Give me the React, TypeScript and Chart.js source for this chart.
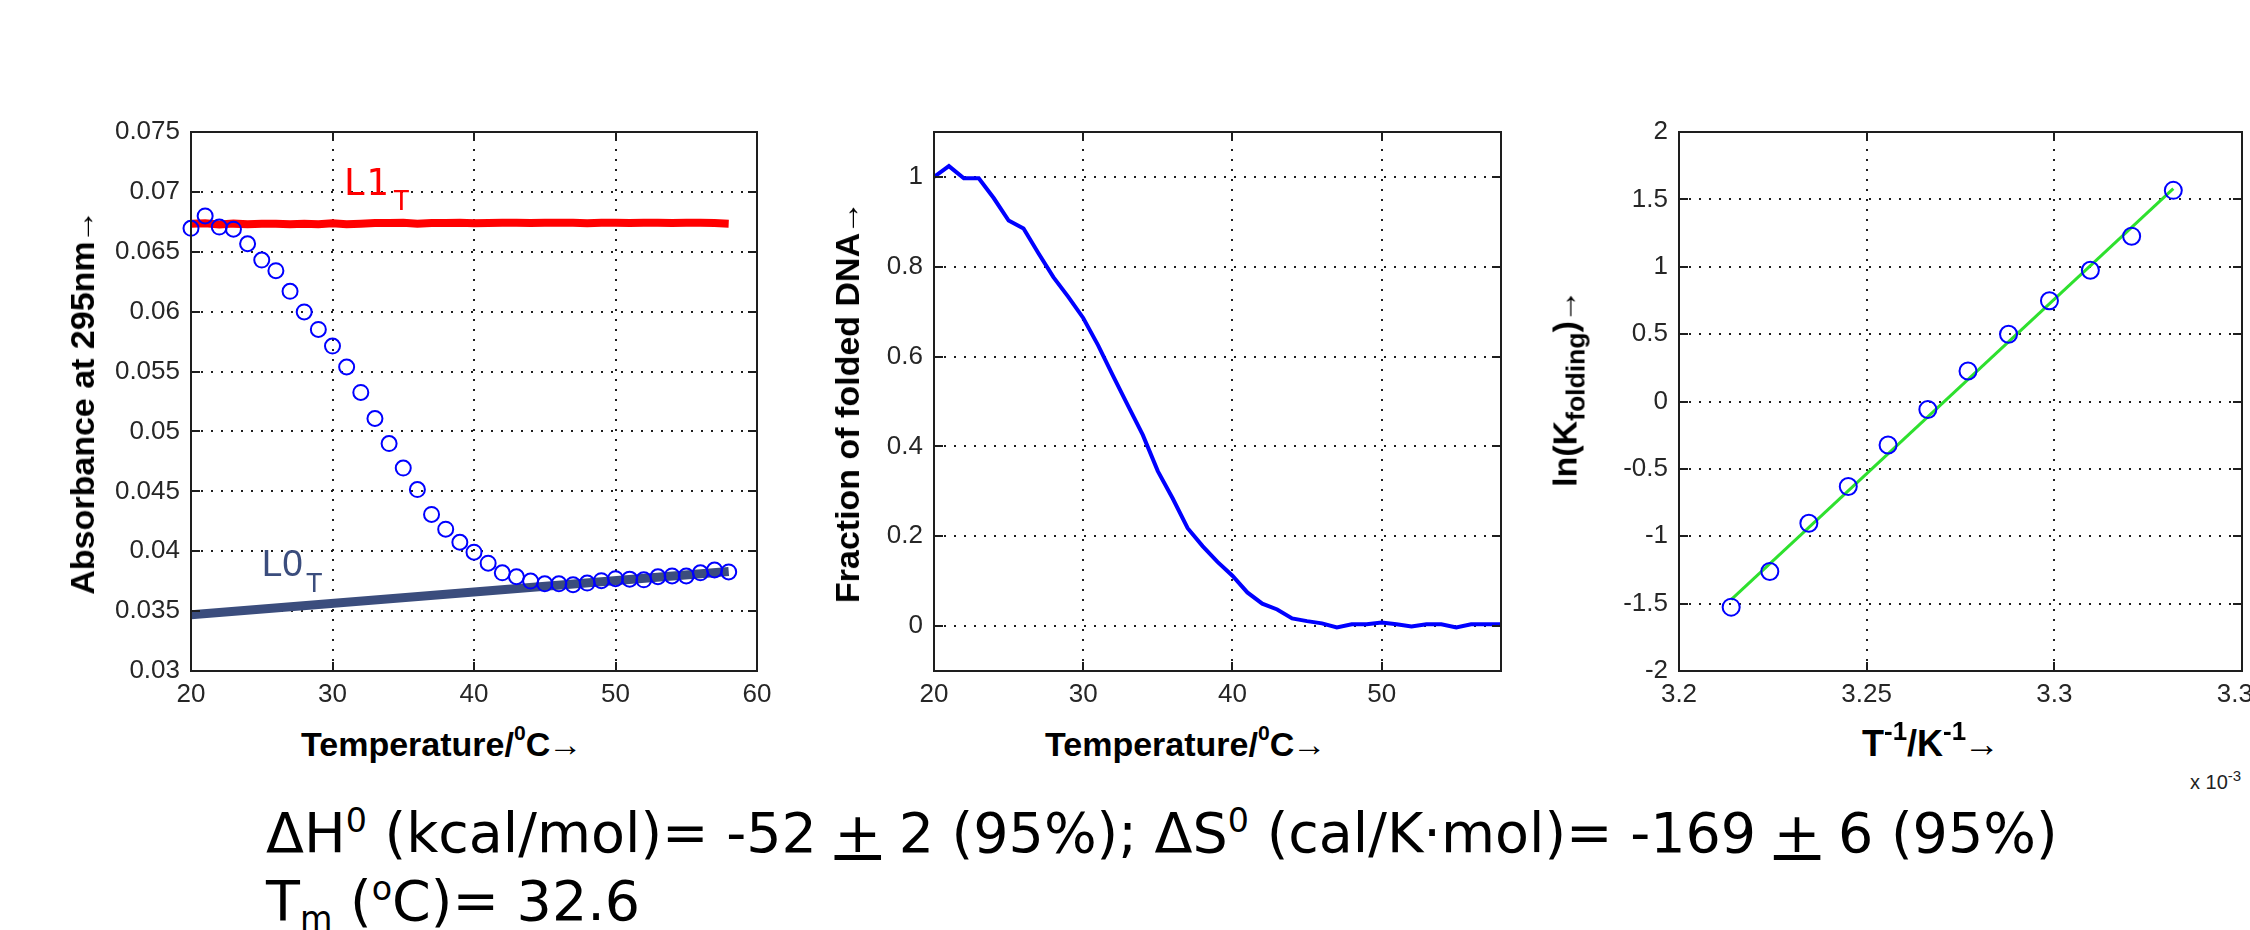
import React, { useEffect, useRef } from "react";
import { Chart, registerables } from "chart.js";

Chart.register(...registerables);

// ---------------- data ----------------
const temperatureC = [
  20, 21, 22, 23, 24, 25, 26, 27, 28, 29, 30, 31, 32, 33, 34, 35, 36, 37, 38, 39,
  40, 41, 42, 43, 44, 45, 46, 47, 48, 49, 50, 51, 52, 53, 54, 55, 56, 57, 58,
];
const absorbance295 = [
  0.06696, 0.06799, 0.06706, 0.06689, 0.06567, 0.06431, 0.06342, 0.0617, 0.05998, 0.05852,
  0.05713, 0.05538, 0.05326, 0.05108, 0.04899, 0.04694, 0.04515, 0.04307, 0.04184, 0.04075,
  0.03992, 0.039, 0.0382, 0.03787, 0.03751, 0.03728, 0.03728, 0.03721, 0.03734, 0.03754,
  0.03771, 0.03767, 0.03761, 0.03787, 0.03794, 0.03794, 0.0382, 0.03843, 0.03827,
];
const l1Absorbance = [
  0.06735, 0.06738, 0.06728, 0.06735, 0.0673, 0.06735, 0.06735, 0.0673, 0.06735, 0.0673,
  0.06738, 0.0673, 0.06735, 0.0674, 0.0674, 0.06742, 0.06735, 0.0674, 0.0674, 0.06742,
  0.06738, 0.0674, 0.06742, 0.06742, 0.0674, 0.06742, 0.06742, 0.06742, 0.06738, 0.06742,
  0.06742, 0.0674, 0.06742, 0.06742, 0.0674, 0.06742, 0.06742, 0.0674, 0.06735,
];
const l0Temperature = [20, 58];
const l0Absorbance = [0.0347, 0.0383];

const foldedFraction = [
  1.0, 1.024, 0.997, 0.997, 0.953, 0.903, 0.885, 0.83, 0.777, 0.733,
  0.686, 0.625, 0.557, 0.491, 0.425, 0.345, 0.284, 0.218, 0.178, 0.143,
  0.112, 0.075, 0.05, 0.037, 0.017, 0.011, 0.006, -0.003, 0.004, 0.004,
  0.008, 0.004, -0.001, 0.004, 0.004, -0.003, 0.004, 0.004, 0.004,
];

const inverseT = [
  3.2139, 3.2242, 3.2346, 3.2451, 3.2557, 3.2663, 3.277, 3.2878, 3.2987, 3.3096, 3.3206, 3.3317,
];
const lnKfolding = [
  -1.526, -1.262, -0.904, -0.631, -0.323, -0.059, 0.226, 0.499, 0.748, 0.974, 1.227, 1.567,
];
const fitInverseT = [3.2139, 3.3317];
const fitLnK = [-1.47, 1.58];

// tick values
const xTicksAbs = [20, 30, 40, 50, 60];
const yTicksAbs = [0.03, 0.035, 0.04, 0.045, 0.05, 0.055, 0.06, 0.065, 0.07, 0.075];
const xTicksFrac = [20, 30, 40, 50];
const yTicksFrac = [0, 0.2, 0.4, 0.6, 0.8, 1];
const xTicksInvT = [3.2, 3.25, 3.3, 3.35];
const yTicksLnK = [-2, -1.5, -1, -0.5, 0, 0.5, 1, 1.5, 2];

// ---------------- styling ----------------
const PLOT_FONT = "'Liberation Sans', Arial, Helvetica, sans-serif";
const TEXT_FONT = "'DejaVu Sans', Verdana, sans-serif";
const AXIS_COLOR = "#1e1e1e";

const fmt = (v: number) => String(Number(Number(v).toFixed(4)));

const framePlugin = {
  id: "matlabFrame",
  beforeDatasetsDraw(chart: any) {
    const { ctx, chartArea: a } = chart;
    const xs = chart.scales.x;
    const ys = chart.scales.y;
    ctx.save();
    ctx.strokeStyle = AXIS_COLOR;
    ctx.lineWidth = 2;
    ctx.setLineDash([2, 8]);
    xs.ticks.forEach((t: any) => {
      const px = Math.round(xs.getPixelForValue(t.value));
      if (px <= a.left + 2 || px >= a.right - 2) return;
      ctx.beginPath();
      ctx.moveTo(px, a.bottom);
      ctx.lineTo(px, a.top);
      ctx.stroke();
    });
    ys.ticks.forEach((t: any) => {
      const py = Math.round(ys.getPixelForValue(t.value));
      if (py <= a.top + 2 || py >= a.bottom - 2) return;
      ctx.beginPath();
      ctx.moveTo(a.left, py);
      ctx.lineTo(a.right, py);
      ctx.stroke();
    });
    ctx.restore();
  },
  afterDatasetsDraw(chart: any, _args: any, opts: any) {
    const { ctx, chartArea: a } = chart;
    const xs = chart.scales.x;
    const ys = chart.scales.y;
    ctx.save();
    ctx.strokeStyle = AXIS_COLOR;
    ctx.lineWidth = 2;
    ctx.setLineDash([]);
    const tl = 9;
    ctx.beginPath();
    xs.ticks.forEach((t: any) => {
      const px = Math.round(xs.getPixelForValue(t.value));
      ctx.moveTo(px, a.bottom);
      ctx.lineTo(px, a.bottom - tl);
      ctx.moveTo(px, a.top);
      ctx.lineTo(px, a.top + tl);
    });
    ys.ticks.forEach((t: any) => {
      const py = Math.round(ys.getPixelForValue(t.value));
      ctx.moveTo(a.left, py);
      ctx.lineTo(a.left + tl, py);
      ctx.moveTo(a.right, py);
      ctx.lineTo(a.right - tl, py);
    });
    ctx.stroke();
    ctx.strokeRect(a.left, a.top, a.right - a.left, a.bottom - a.top);

    (opts.labels || []).forEach((lb: any) => {
      const px = xs.getPixelForValue(lb.x);
      const py = ys.getPixelForValue(lb.y);
      ctx.fillStyle = lb.color;
      ctx.textAlign = "left";
      ctx.textBaseline = "alphabetic";
      ctx.font = lb.font;
      ctx.fillText(lb.text, px, py);
      const w = ctx.measureText(lb.text).width;
      ctx.font = lb.subFont;
      ctx.fillText(lb.sub, px + w + lb.subGap, py + lb.subDrop);
    });
    ctx.restore();
  },
};

type PanelSpec = {
  datasets: any[];
  xMin: number;
  xMax: number;
  xTicks: number[];
  yMin: number;
  yMax: number;
  yTicks: number[];
  padRight: number;
  labels?: any[];
};

const Y_AXIS_W = 120;
const X_AXIS_H = 50;
const PAD_TOP = 32;

function buildConfig(p: PanelSpec): any {
  const tickFont = { family: PLOT_FONT, size: 26 };
  return {
    type: "scatter",
    data: { datasets: p.datasets },
    options: {
      animation: false,
      responsive: false,
      maintainAspectRatio: false,
      layout: { padding: { left: 0, top: PAD_TOP, right: p.padRight, bottom: 0 } },
      plugins: {
        legend: { display: false },
        tooltip: { enabled: false },
        matlabFrame: { labels: p.labels || [] },
      },
      scales: {
        x: {
          type: "linear",
          min: p.xMin,
          max: p.xMax,
          grid: { display: false, drawTicks: false },
          border: { display: false },
          afterBuildTicks: (s: any) => {
            s.ticks = p.xTicks.map((v) => ({ value: v }));
          },
          afterFit: (s: any) => {
            s.height = X_AXIS_H;
            s.paddingLeft = 0;
            s.paddingRight = 0;
          },
          ticks: {
            font: tickFont,
            color: "#262626",
            padding: 8,
            maxRotation: 0,
            autoSkip: false,
            callback: (v: any) => fmt(v),
          },
        },
        y: {
          type: "linear",
          min: p.yMin,
          max: p.yMax,
          grid: { display: false, drawTicks: false },
          border: { display: false },
          afterBuildTicks: (s: any) => {
            s.ticks = p.yTicks.map((v) => ({ value: v }));
          },
          afterFit: (s: any) => {
            s.width = Y_AXIS_W;
            s.paddingTop = 0;
            s.paddingBottom = 0;
          },
          ticks: {
            font: tickFont,
            color: "#262626",
            padding: 11,
            autoSkip: false,
            callback: (v: any) => fmt(v),
          },
        },
      },
    },
    plugins: [framePlugin],
  };
}

const circleStyle = (radius: number) => ({
  showLine: false,
  pointStyle: "circle",
  pointRadius: radius,
  pointBorderColor: "#0000ff",
  pointBackgroundColor: "rgba(0,0,0,0)",
  pointBorderWidth: 2,
  clip: false,
});

const lineStyle = (color: string, width: number) => ({
  showLine: true,
  pointRadius: 0,
  borderColor: color,
  borderWidth: width,
  tension: 0,
  fill: false,
});

function zip(xs: number[], ys: number[]) {
  return xs.map((x, i) => ({ x, y: ys[i] }));
}

const PLOT_TOP = 132;
const PLOT_BOTTOM = 671;
const PLOT_H = PLOT_BOTTOM - PLOT_TOP;

function ChartPanel({ plotLeft, plotRight, spec }: { plotLeft: number; plotRight: number; spec: PanelSpec }) {
  const ref = useRef<HTMLCanvasElement>(null);
  const width = Y_AXIS_W + (plotRight - plotLeft) + spec.padRight;
  const height = PAD_TOP + PLOT_H + X_AXIS_H;
  useEffect(() => {
    const chart = new Chart(ref.current as HTMLCanvasElement, buildConfig(spec));
    return () => chart.destroy();
  }, []);
  return (
    <canvas
      ref={ref}
      width={width}
      height={height}
      style={{
        position: "absolute",
        left: plotLeft - Y_AXIS_W,
        top: PLOT_TOP - PAD_TOP,
        width,
        height,
      }}
    />
  );
}

const Sup = ({ children, size = 0.62, rise = 0.75 }: any) => (
  <span style={{ fontSize: `${size}em`, position: "relative", top: `-${rise}em` }}>{children}</span>
);
const Sub = ({ children, size = 0.7, drop = 0.35 }: any) => (
  <span style={{ fontSize: `${size}em`, position: "relative", top: `${drop}em` }}>{children}</span>
);
const Arrow = () => <span style={{ marginLeft: -2 }}>→</span>;

const titleStyle: React.CSSProperties = {
  position: "absolute",
  fontFamily: PLOT_FONT,
  fontWeight: "bold",
  fontSize: 34,
  lineHeight: "34px",
  color: "#000",
  whiteSpace: "nowrap",
};

function YTitle({ cx, cy, children }: any) {
  return (
    <div
      style={{
        ...titleStyle,
        left: cx,
        top: cy,
        transform: "translate(-50%, -50%) rotate(-90deg)",
      }}
    >
      {children}
    </div>
  );
}

export default function App() {
  const panel1: PanelSpec = {
    datasets: [
      { data: zip(temperatureC, absorbance295), ...circleStyle(7.5) },
      { data: zip(temperatureC, l1Absorbance), ...lineStyle("#ff0000", 8) },
      { data: zip(l0Temperature, l0Absorbance), ...lineStyle("#3b4d7d", 9) },
    ],
    xMin: 20,
    xMax: 60,
    xTicks: xTicksAbs,
    yMin: 0.03,
    yMax: 0.075,
    yTicks: yTicksAbs,
    padRight: 40,
    labels: [
      {
        x: 30.8,
        y: 0.0697,
        text: "L1",
        sub: "T",
        color: "#ff0000",
        font: "37px 'DejaVu Sans Mono', monospace",
        subFont: "27px 'DejaVu Sans Mono', monospace",
        subGap: 5,
        subDrop: 15,
      },
      {
        x: 25.0,
        y: 0.0379,
        text: "L0",
        sub: "T",
        color: "#3b4d7d",
        font: `37px ${PLOT_FONT}`,
        subFont: `27px ${PLOT_FONT}`,
        subGap: 3,
        subDrop: 16,
      },
    ],
  };

  const panel2: PanelSpec = {
    datasets: [{ data: zip(temperatureC, foldedFraction), ...lineStyle("#0000ff", 4) }],
    xMin: 20,
    xMax: 58,
    xTicks: xTicksFrac,
    yMin: -0.1,
    yMax: 1.1,
    yTicks: yTicksFrac,
    padRight: 40,
  };

  const panel3: PanelSpec = {
    datasets: [
      { data: zip(inverseT, lnKfolding), ...circleStyle(8.5) },
      { data: zip(fitInverseT, fitLnK), ...lineStyle("#2ee02e", 3) },
    ],
    xMin: 3.2,
    xMax: 3.35,
    xTicks: xTicksInvT,
    yMin: -2,
    yMax: 2,
    yTicks: yTicksLnK,
    padRight: 40,
  };

  return (
    <div
      style={{
        position: "absolute",
        left: 0,
        top: 0,
        width: 2250,
        height: 930,
        overflow: "hidden",
        background: "#ffffff",
      }}
    >
      <ChartPanel plotLeft={191} plotRight={757} spec={panel1} />
      <ChartPanel plotLeft={934} plotRight={1501} spec={panel2} />
      <ChartPanel plotLeft={1679} plotRight={2242} spec={panel3} />

      <YTitle cx={82} cy={402}>
        Absorbance at 295nm<Arrow />
      </YTitle>
      <YTitle cx={847} cy={402}>
        Fraction of folded DNA<Arrow />
      </YTitle>
      <YTitle cx={1566} cy={388}>
        ln(K<Sub size={0.78} drop={0.3}>folding</Sub>)<Arrow />
      </YTitle>

      <div style={{ ...titleStyle, left: 301, top: 727 }}>
        Temperature/<Sup>0</Sup>C<Arrow />
      </div>
      <div style={{ ...titleStyle, left: 1045, top: 727 }}>
        Temperature/<Sup>0</Sup>C<Arrow />
      </div>
      <div style={{ ...titleStyle, left: 1862, top: 727, fontSize: 36 }}>
        T<Sup size={0.72} rise={0.6}>-1</Sup>/K<Sup size={0.72} rise={0.6}>-1</Sup>
        <Arrow />
      </div>
      <div
        style={{
          position: "absolute",
          left: 2190,
          top: 772,
          fontFamily: PLOT_FONT,
          fontSize: 20,
          lineHeight: "20px",
          color: "#222",
          whiteSpace: "nowrap",
        }}
      >
        x 10<Sup size={0.75} rise={0.55}>-3</Sup>
      </div>

      <div
        style={{
          position: "absolute",
          left: 266,
          top: 803,
          fontFamily: TEXT_FONT,
          fontSize: 55.5,
          lineHeight: "60px",
          color: "#000",
          whiteSpace: "nowrap",
        }}
      >
        <div>
          ΔH<Sup size={0.6} rise={0.6}>0</Sup> (kcal/mol)= -52 <span style={{ textDecoration: "underline" }}>+</span> 2
          (95%); ΔS<Sup size={0.6} rise={0.6}>0</Sup> (cal/K·mol)= -169{" "}
          <span style={{ textDecoration: "underline" }}>+</span> 6 (95%)
        </div>
        <div>
          T<Sub size={0.6} drop={0.3}>m</Sub> (<Sup size={0.6} rise={0.6}>o</Sup>C)= 32.6
        </div>
      </div>
    </div>
  );
}
